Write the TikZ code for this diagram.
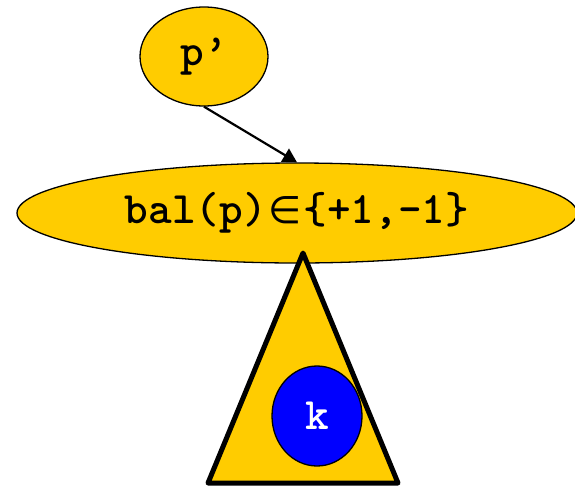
\documentclass[tikz,border=0pt]{standalone}
\usepackage{fontspec}
\newfontfamily\symfont{DejaVu Sans}
\usetikzlibrary{shapes.geometric,arrows.meta}
\definecolor{gold}{HTML}{FFCC00}
\definecolor{kblue}{HTML}{0000FF}
\tikzset{
  blob/.style={ellipse,draw,line width=1.3pt,fill=gold,inner sep=0pt,
    font=\fontsize{45}{52}\selectfont\ttfamily\bfseries}
}

\begin{document}
\begin{tikzpicture}[x=1pt,y=-1pt]
\useasboundingbox (0,0) rectangle (575,485);
\node[blob,minimum width=128,minimum height=99] (pp) at (204,56.5) {p’};
\node[blob,minimum width=560,minimum height=100] (bal) at (297,213)
  {bal(p)\kern2pt{\fontsize{38}{46}\symfont\mdseries ∈}\kern2pt\{+1,-1\}};
\draw[line width=2.2pt,-{Triangle[length=14pt,width=15pt]}] (pp.south) -- (bal.north);
% subtree
\coordinate (top) at (303,253);
\coordinate (bl) at (208,483);
\coordinate (br) at (398,483);
\draw[line width=5pt,line join=round,fill=gold] (top) -- (br) -- (bl) -- cycle;
\node[blob,fill=kblue,text=white,minimum width=90,minimum height=100] (k) at (317,416) {k};
\end{tikzpicture}
\end{document}
